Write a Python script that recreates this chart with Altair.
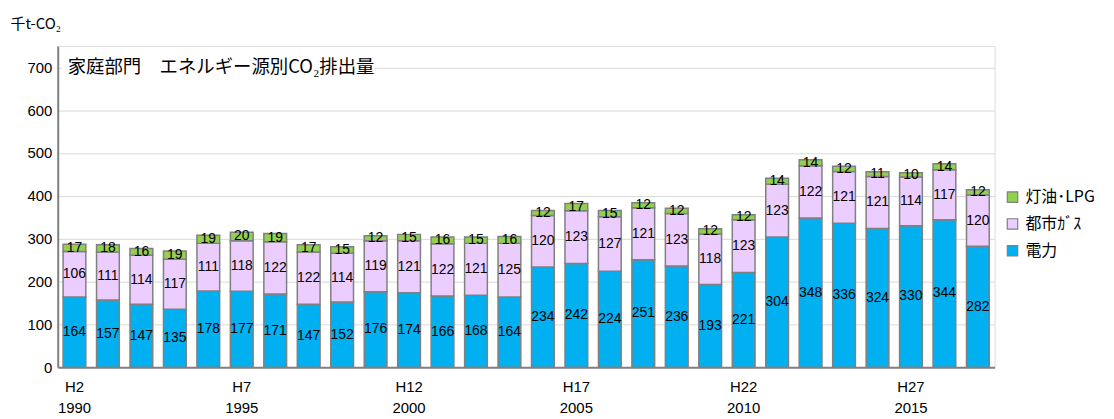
import altair as alt
import pandas as pd

years = list(range(1990, 2018))
electricity = [164, 157, 147, 135, 178, 177, 171, 147, 152, 176, 174, 166, 168, 164,
               234, 242, 224, 251, 236, 193, 221, 304, 348, 336, 324, 330, 344, 282]
city_gas = [106, 111, 114, 117, 111, 118, 122, 122, 114, 119, 121, 122, 121, 125,
            120, 123, 127, 121, 123, 118, 123, 123, 122, 121, 121, 114, 117, 120]
kerosene = [17, 18, 16, 19, 19, 20, 19, 17, 15, 12, 15, 16, 15, 16,
            12, 17, 15, 12, 12, 12, 12, 14, 14, 12, 11, 10, 14, 12]

series_names = ["灯油･LPG", "都市ｶﾞｽ", "電力"]
series_colors = ["#92D050", "#EBCDFF", "#00B0F0"]
stack_rank = {"電力": 0, "都市ｶﾞｽ": 1, "灯油･LPG": 2}

rows = []
for i, y in enumerate(years):
    for name, vals in (("電力", electricity), ("都市ｶﾞｽ", city_gas), ("灯油･LPG", kerosene)):
        rows.append({"year": str(y), "source": name, "value": vals[i], "ord": stack_rank[name]})
df = pd.DataFrame(rows)

FONT = "Noto Sans CJK JP"
NUM = "Liberation Sans"
W, H = 942, 323

base = alt.Chart(df).transform_stack(
    stack="value", groupby=["year"], as_=["v0", "v1"],
    sort=[alt.SortField("ord", order="ascending")]
).transform_calculate(mid="(datum.v0 + datum.v1) / 2")

x_enc = alt.X(
    "year:N", sort=[str(y) for y in years],
    scale=alt.Scale(paddingInner=0.32, paddingOuter=0.16),
    axis=alt.Axis(
        title=None, ticks=False, grid=False, labelAngle=0,
        labelExpr="(toNumber(datum.value) - 1990) % 5 == 0 ? ['H' + (toNumber(datum.value) - 1988), datum.value] : ''",
        labelFontSize=15, labelFont=NUM, labelFontWeight="normal", labelColor="#000000",
        labelPadding=12, labelLineHeight=22, labelBaseline="top",
        domainColor="#808080", domainWidth=2,
    ),
)

bars = base.mark_bar(stroke="#808080", strokeWidth=1.5).encode(
    x=x_enc,
    y=alt.Y("v0:Q", scale=alt.Scale(domain=[0, 750], nice=False),
            axis=alt.Axis(
                values=[0, 100, 200, 300, 400, 500, 600, 700], ticks=False,
                title="千t-CO₂", titleAngle=0, titleAlign="left", titleBaseline="middle",
                titleX=-48, titleY=-23, titleFont=FONT, titleFontSize=15,
                titleFontWeight="normal", titleColor="#000000",
                labelFont=NUM, labelFontSize=15, labelColor="#000000", labelPadding=6,
                gridColor="#D9D9D9", gridWidth=1,
                domainColor="#808080", domainWidth=2,
            )),
    y2="v1:Q",
    color=alt.Color("source:N",
                    scale=alt.Scale(domain=series_names, range=series_colors),
                    legend=alt.Legend(
                        title=None, orient="none", legendX=952, legendY=144,
                        symbolType="square", symbolSize=110, symbolStrokeColor="#808080",
                        symbolStrokeWidth=1.2, labelFont=FONT, labelFontSize=16,
                        labelColor="#000000", rowPadding=11, labelOffset=5,
                    )),
    order=alt.Order("ord:Q"),
)

labels = base.mark_text(font=NUM, fontSize=14, color="#000000", baseline="middle").encode(
    x=alt.X("year:N", sort=[str(y) for y in years]),
    y=alt.Y("mid:Q"),
    text=alt.Text("value:Q"),
)

title_df = pd.DataFrame({"t": ["家庭部門　エネルギー源別CO₂排出量"]})
title_bg = alt.Chart(title_df).mark_rect(fill="white").encode(
    x=alt.value(4), x2=alt.value(318), y=alt.value(8), y2=alt.value(34)
)
title_txt = alt.Chart(title_df).mark_text(
    font=FONT, fontSize=18.5, align="left", baseline="middle", color="#000000"
).encode(x=alt.value(10), y=alt.value(21), text="t:N")

chart = alt.layer(bars, labels, title_bg, title_txt).properties(
    width=W, height=H,
    autosize=alt.AutoSizeParams(type="none"),
    padding={"left": 50, "top": 37, "right": 112, "bottom": 50},
).configure_view(stroke="#808080", strokeWidth=2).configure(background="white")

chart.save("out.html", embed_options={"renderer": "svg", "actions": False})
